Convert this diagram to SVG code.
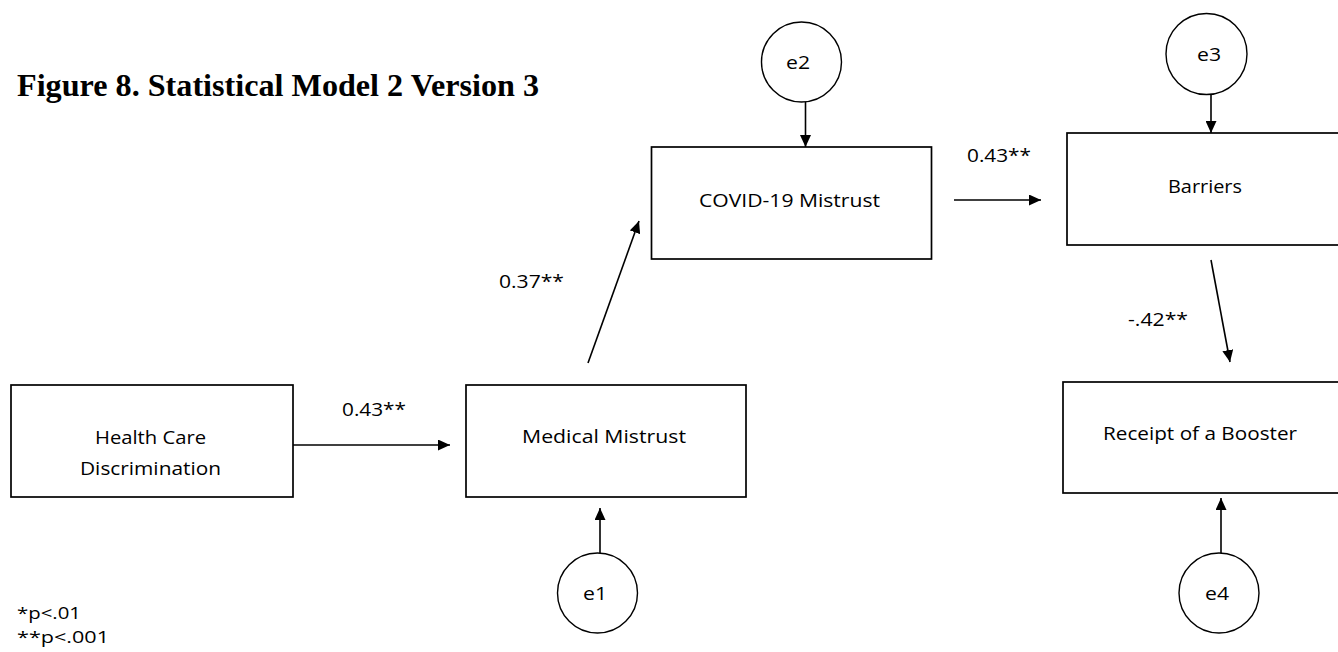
<svg xmlns="http://www.w3.org/2000/svg" width="1338" height="652" viewBox="0 0 1338 652">
<style>
.box{fill:#fff;stroke:#000;stroke-width:1.7}
.err{fill:#fff;stroke:#000;stroke-width:1.4}
.t{font-family:"Open Sans",Lato,"Liberation Sans",sans-serif;font-size:19px;fill:#000}
.n{font-size:17px}
.title{font-family:"Liberation Serif","Times New Roman",serif;font-weight:bold;font-size:32px;fill:#000}
.c{stroke:#000;stroke-width:1.6;fill:none;marker-end:url(#ah)}
</style>
<defs>
<marker id="ah" markerUnits="userSpaceOnUse" markerWidth="13" markerHeight="11" refX="12" refY="5.5" orient="auto">
<path d="M0,0 L12,5.5 L0,11 Z" fill="#000"/>
</marker>
</defs>
<rect width="1338" height="652" fill="#fff"/>
<text class="title" x="17" y="96" textLength="522" lengthAdjust="spacingAndGlyphs">Figure 8. Statistical Model 2 Version 3</text>

<g id="connectors">
<line class="c" x1="293" y1="445" x2="450" y2="445"/>
<line class="c" x1="588" y1="363" x2="639" y2="221"/>
<line class="c" x1="954" y1="200" x2="1041" y2="200"/>
<line class="c" x1="1211" y1="260" x2="1230" y2="362"/>
<line class="c" x1="805.5" y1="102" x2="805.5" y2="147"/>
<line class="c" x1="1211" y1="94" x2="1211" y2="133"/>
<line class="c" x1="600" y1="553" x2="600" y2="508"/>
<line class="c" x1="1221" y1="553" x2="1221" y2="498"/>
</g>

<g id="labels">
<text class="t" x="342" y="416" textLength="64" lengthAdjust="spacingAndGlyphs">0.43**</text>
<text class="t" x="499" y="288" textLength="65" lengthAdjust="spacingAndGlyphs">0.37**</text>
<text class="t" x="967" y="162" textLength="64" lengthAdjust="spacingAndGlyphs">0.43**</text>
<text class="t" x="1128" y="326" textLength="60" lengthAdjust="spacingAndGlyphs">-.42**</text>
<text class="t n" x="17" y="619" textLength="64" lengthAdjust="spacingAndGlyphs">*p&lt;.01</text>
<text class="t n" x="17" y="643" textLength="92" lengthAdjust="spacingAndGlyphs">**p&lt;.001</text>
</g>

<g id="hcd">
<rect class="box" x="11" y="385" width="282" height="112"/>
<text class="t" x="95" y="444" textLength="111" lengthAdjust="spacingAndGlyphs">Health Care</text>
<text class="t" x="80" y="475" textLength="141" lengthAdjust="spacingAndGlyphs">Discrimination</text>
</g>
<g id="mm">
<rect class="box" x="466" y="385" width="280" height="112"/>
<text class="t" x="522" y="443" textLength="164" lengthAdjust="spacingAndGlyphs">Medical Mistrust</text>
</g>
<g id="covid">
<rect class="box" x="651.5" y="147" width="280" height="112"/>
<text class="t" x="699" y="207" textLength="181" lengthAdjust="spacingAndGlyphs">COVID-19 Mistrust</text>
</g>
<g id="barriers">
<rect class="box" x="1067" y="133" width="282" height="112"/>
<text class="t" x="1168" y="193" textLength="74" lengthAdjust="spacingAndGlyphs">Barriers</text>
</g>
<g id="booster">
<rect class="box" x="1063" y="382" width="282" height="111"/>
<text class="t" x="1103" y="440" textLength="194" lengthAdjust="spacingAndGlyphs">Receipt of a Booster</text>
</g>
<g id="e1">
<circle class="err" cx="597.5" cy="593" r="40"/>
<text class="t" x="595" y="600" text-anchor="middle" textLength="24" lengthAdjust="spacingAndGlyphs">e1</text>
</g>
<g id="e2">
<circle class="err" cx="801.5" cy="62" r="40"/>
<text class="t" x="798" y="69" text-anchor="middle" textLength="24" lengthAdjust="spacingAndGlyphs">e2</text>
</g>
<g id="e3">
<circle class="err" cx="1206.5" cy="54" r="40.5"/>
<text class="t" x="1209" y="61" text-anchor="middle" textLength="24" lengthAdjust="spacingAndGlyphs">e3</text>
</g>
<g id="e4">
<circle class="err" cx="1219" cy="593" r="40"/>
<text class="t" x="1217" y="600" text-anchor="middle" textLength="24" lengthAdjust="spacingAndGlyphs">e4</text>
</g>
</svg>
